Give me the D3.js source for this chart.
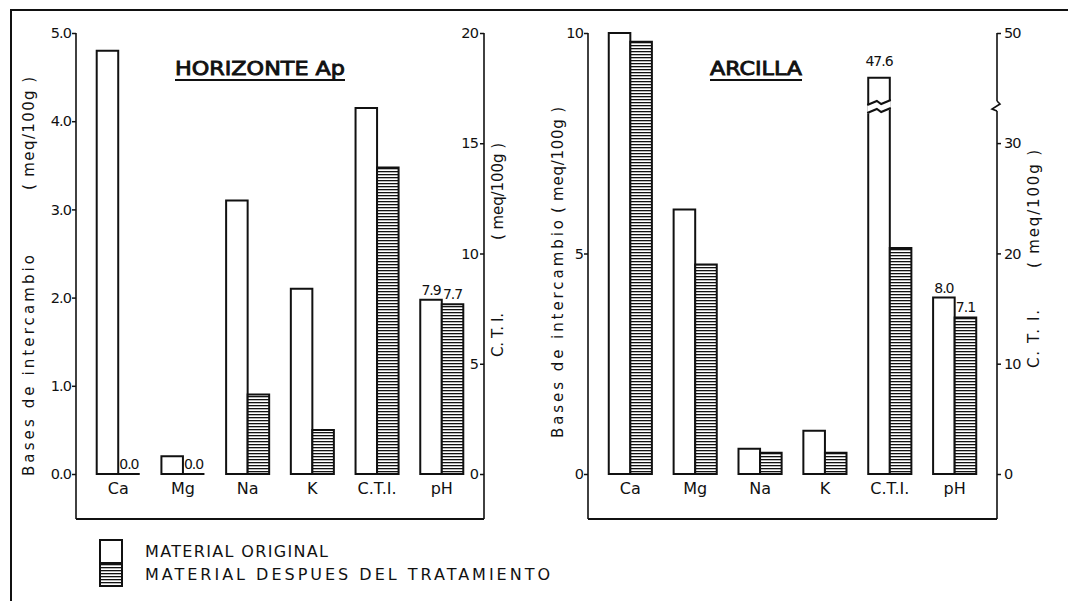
<!DOCTYPE html>
<html>
<head>
<meta charset="utf-8">
<script src="https://cdn.jsdelivr.net/npm/d3@7"></script>
<style>
body { margin: 0; background: #fff; }
text { font-family: "DejaVu Sans", sans-serif; fill: #111; }
</style>
</head>
<body>
<svg id="chart" width="1068" height="601"></svg>
<script>
// data
var categories = ["Ca", "Mg", "Na", "K", "C.T.I.", "pH"];
var series = ["original", "tratamiento"];

var horizonteOriginal    = [4.8, 0.2, 3.1, 2.1, 16.6, 7.9];
var horizonteTratamiento = [0.0, 0.0, 0.9, 0.5, 13.9, 7.7];
var horizonteEtiqOriginal    = ["", "", "", "", "", "7.9"];
var horizonteEtiqTratamiento = ["0.0", "0.0", "", "", "", "7.7"];

var arcillaOriginal    = [10.0, 6.0, 0.57, 0.98, 47.6, 8.0];
var arcillaTratamiento = [9.8, 4.75, 0.48, 0.48, 20.5, 7.1];
var arcillaEtiqOriginal    = ["", "", "", "", "47.6", "8.0"];
var arcillaEtiqTratamiento = ["", "", "", "", "", "7.1"];

var horizonteBasesTicks = [0, 1, 2, 3, 4, 5];
var horizonteCtiTicks = [0, 5, 10, 15, 20];
var arcillaBasesTicks = [0, 5, 10];
var arcillaCtiTicks = [0, 10, 20, 30, 50];

var legendLabels = ["MATERIAL ORIGINAL", "MATERIAL DESPUES DEL TRATAMIENTO"];

var ink = "#111";
var yTop = 33, yZero = 474, yBottom = 519;

var svg = d3.select("#chart");

var defs = svg.append("defs");
var pat = defs.append("pattern")
    .attr("id", "hatch")
    .attr("width", 6).attr("height", 3)
    .attr("patternUnits", "userSpaceOnUse");
pat.append("rect").attr("width", 6).attr("height", 3).attr("fill", "#fff");
pat.append("rect").attr("width", 6).attr("height", 1.3).attr("fill", ink);

// outer frame
svg.append("path")
    .attr("d", "M11,601 V10 H1068")
    .attr("fill", "none").attr("stroke", ink).attr("stroke-width", 2);

function rotLabel(x, y0, y1, txt, size) {
    svg.append("text")
        .attr("transform", "translate(" + x + "," + y0 + ") rotate(-90)")
        .attr("font-size", size)
        .attr("textLength", y0 - y1)
        .attr("lengthAdjust", "spacing")
        .text(txt);
}

function panel(p) {
    var x = d3.scaleBand().domain(categories)
        .range([p.x0, p.x1])
        .paddingInner(0.335).paddingOuter(0.32);
    var xs = d3.scaleBand().domain(series).range([0, x.bandwidth()]);

    function yFor(cat) {
        if (cat === "C.T.I.") return p.yCti;
        if (cat === "pH") return p.yPh;
        return p.yBases;
    }

    var rows = [];
    categories.forEach(function(c, i) {
        rows.push({cat: c, s: "original", v: p.orig[i], lab: p.labOrig[i]});
        rows.push({cat: c, s: "tratamiento", v: p.trat[i], lab: p.labTrat[i]});
    });

    var g = svg.append("g");

    g.selectAll("path.bar")
        .data(rows)
        .enter().append("path")
        .attr("class", "bar")
        .attr("fill", function(d) { return d.s === "original" ? "#fff" : "url(#hatch)"; })
        .attr("stroke", ink)
        .attr("stroke-width", 2)
        .attr("d", function(d) {
            var bx = x(d.cat) + xs(d.s), w = xs.bandwidth();
            var by = yFor(d.cat)(d.v), b0 = yFor(d.cat)(0);
            return "M" + bx + "," + b0 + " V" + by + " H" + (bx + w) + " V" + b0 + " Z";
        });

    // value labels
    g.selectAll("text.val")
        .data(rows.filter(function(d) { return d.lab !== ""; }))
        .enter().append("text")
        .attr("class", "val")
        .attr("font-size", 14)
        .attr("letter-spacing", -1)
        .attr("text-anchor", function(d) { return d.v === 0 ? "start" : "middle"; })
        .attr("x", function(d) {
            var bx = x(d.cat) + xs(d.s);
            return d.v === 0 ? bx + 1 : bx + xs.bandwidth() / 2;
        })
        .attr("y", function(d) {
            var by = yFor(d.cat)(d.v);
            return d.v === 0 ? by - 5 : by - (d.cat === "C.T.I." ? 12 : 5);
        })
        .text(function(d) { return d.lab; });

    // category labels
    g.selectAll("text.cat")
        .data(categories)
        .enter().append("text")
        .attr("class", "cat")
        .attr("font-size", 16)
        .attr("text-anchor", "middle")
        .attr("x", function(d) { return x(d) + x.bandwidth() / 2; })
        .attr("y", 494)
        .text(function(d) { return d; });

    // left axis
    var al = g.append("g")
        .attr("transform", "translate(" + p.x0 + ",0)")
        .call(d3.axisLeft(p.yBases).tickValues(p.basesTicks)
            .tickFormat(p.basesFmt).tickSize(4).tickPadding(1));
    // right axis
    var ar = g.append("g")
        .attr("transform", "translate(" + p.x1 + ",0)")
        .call(p.rightAxis);
    [al, ar].forEach(function(a) {
        a.select(".domain").remove();
        a.selectAll("line").attr("stroke", ink).attr("stroke-width", 1.5);
        a.selectAll("text").attr("font-size", 14.5).attr("letter-spacing", -0.9)
            .attr("font-family", "DejaVu Sans").attr("fill", ink);
    });

    // frame lines
    g.append("line").attr("x1", p.x0).attr("x2", p.x0).attr("y1", yTop).attr("y2", yBottom)
        .attr("stroke", ink).attr("stroke-width", 1.6);
    g.append("line").attr("x1", p.x0).attr("x2", p.x1).attr("y1", yBottom).attr("y2", yBottom)
        .attr("stroke", ink).attr("stroke-width", 1.8);

    // title
    g.append("text")
        .attr("x", p.titleX0).attr("y", 75)
        .attr("font-size", 20)
        .attr("stroke", ink).attr("stroke-width", 0.9)
        .attr("textLength", p.titleX1 - p.titleX0)
        .attr("lengthAdjust", "spacingAndGlyphs")
        .text(p.title);
    g.append("line").attr("x1", p.titleX0).attr("x2", p.titleX1).attr("y1", 80).attr("y2", 80)
        .attr("stroke", ink).attr("stroke-width", 2);

    return {x: x, xs: xs, g: g};
}

// ---- HORIZONTE Ap
var h = panel({
    x0: 76, x1: 484,
    orig: horizonteOriginal, trat: horizonteTratamiento,
    labOrig: horizonteEtiqOriginal, labTrat: horizonteEtiqTratamiento,
    yBases: d3.scaleLinear().domain([0, 5]).range([yZero, yTop]),
    yCti: d3.scaleLinear().domain([0, 20]).range([yZero, yTop]),
    yPh: d3.scaleLinear().domain([0, 20]).range([yZero, yTop]),
    basesTicks: horizonteBasesTicks, basesFmt: d3.format(".1f"),
    rightAxis: d3.axisLeft(d3.scaleLinear().domain([0, 20]).range([yZero, yTop]))
        .tickValues(horizonteCtiTicks).tickSize(4).tickPadding(2),
    title: "HORIZONTE  Ap", titleX0: 175, titleX1: 345
});
h.g.append("line").attr("x1", 484).attr("x2", 484).attr("y1", yTop).attr("y2", yBottom)
    .attr("stroke", ink).attr("stroke-width", 1.6);

// ---- ARCILLA (C.T.I. axis broken between 33 and 46)
var yCtiArc = d3.scaleLinear().domain([0, 33, 46.3, 50]).range([yZero, 110, 102, yTop]);
var a = panel({
    x0: 588, x1: 997,
    orig: arcillaOriginal, trat: arcillaTratamiento,
    labOrig: arcillaEtiqOriginal, labTrat: arcillaEtiqTratamiento,
    yBases: d3.scaleLinear().domain([0, 10]).range([yZero, yTop]),
    yCti: yCtiArc,
    yPh: d3.scaleLinear().domain([0, 20]).range([yZero, yTop]),
    basesTicks: arcillaBasesTicks, basesFmt: d3.format("d"),
    rightAxis: d3.axisRight(yCtiArc).tickValues(arcillaCtiTicks).tickSize(4).tickPadding(3),
    title: "ARCILLA", titleX0: 710, titleX1: 802
});
var yBreak = (yCtiArc(33) + yCtiArc(46.3)) / 2;
a.g.append("line").attr("x1", 997).attr("x2", 997).attr("y1", yTop).attr("y2", yBreak - 5)
    .attr("stroke", ink).attr("stroke-width", 1.6);
a.g.append("line").attr("x1", 997).attr("x2", 997).attr("y1", yBreak + 5).attr("y2", yBottom)
    .attr("stroke", ink).attr("stroke-width", 1.6);
a.g.append("path")
    .attr("d", "M997," + (yBreak - 5) + " l3,3 l-8,5 l5,2")
    .attr("fill", "none").attr("stroke", ink).attr("stroke-width", 1.6);

// break on the tall C.T.I. bar
var bx = a.x("C.T.I.") + a.xs("original"), bw = a.xs.bandwidth();
function zig(y) {
    return "M" + (bx - 1) + "," + (y + 2) + " L" + (bx + bw * 0.4) + "," + (y - 2) +
        " L" + (bx + bw * 0.6) + "," + (y + 1) + " L" + (bx + bw + 1) + "," + (y - 3);
}
a.g.append("path")
    .attr("d", zig(yBreak - 3) + " L" + (bx + bw + 1) + "," + (yBreak + 3) +
        " L" + (bx + bw * 0.6) + "," + (yBreak + 7) + " L" + (bx + bw * 0.4) + "," + (yBreak + 4) +
        " L" + (bx - 1) + "," + (yBreak + 8) + " Z")
    .attr("fill", "#fff").attr("stroke", "none");
a.g.append("path").attr("d", zig(yBreak - 3))
    .attr("fill", "none").attr("stroke", ink).attr("stroke-width", 2);
a.g.append("path").attr("d", zig(yBreak + 5))
    .attr("fill", "none").attr("stroke", ink).attr("stroke-width", 2);

// rotated axis titles
rotLabel(34, 476, 255, "Bases de intercambio", 15);
rotLabel(34, 190, 77, "( meq/100g )", 15);
rotLabel(503, 357, 313, "C. T. I.", 15);
rotLabel(503, 240, 143, "( meq/100g )", 15);
rotLabel(563, 438, 220, "Bases de intercambio", 15);
rotLabel(563, 213, 107, "( meq/100g )", 15);
rotLabel(1039, 368, 310, "C. T. I.", 15);
rotLabel(1039, 268, 150, "( meq/100g )", 15);

// legend
var lg = svg.append("g");
lg.append("rect").attr("x", 100).attr("y", 540).attr("width", 22).attr("height", 23)
    .attr("fill", "#fff").attr("stroke", ink).attr("stroke-width", 2);
lg.append("rect").attr("x", 100).attr("y", 563).attr("width", 22).attr("height", 23)
    .attr("fill", "url(#hatch)").attr("stroke", ink).attr("stroke-width", 2);
lg.selectAll("text")
    .data(legendLabels)
    .enter().append("text")
    .attr("x", 145)
    .attr("y", function(d, i) { return 557 + i * 23; })
    .attr("font-size", 16)
    .attr("textLength", function(d, i) { return i === 0 ? 183 : 405; })
    .attr("lengthAdjust", "spacing")
    .text(function(d) { return d; });
</script>
</body>
</html>
